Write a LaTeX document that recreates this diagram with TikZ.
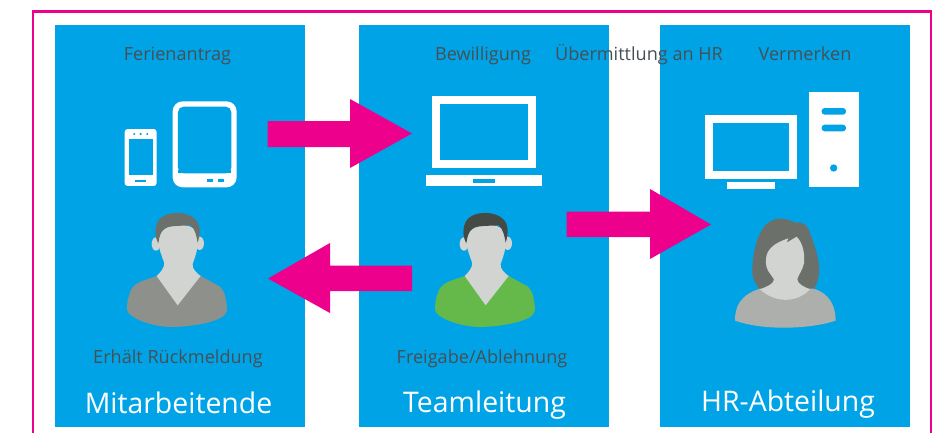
\documentclass[tikz,border=0pt]{standalone}
\usepackage{fontspec}
\setmainfont{Open Sans}
\definecolor{panelblue}{HTML}{00A4E6}
\definecolor{magent}{HTML}{EC008C}
\definecolor{labelgrey}{HTML}{474F55}
\definecolor{skin}{HTML}{D2D4D2}
\definecolor{hairA}{HTML}{6C706B}
\definecolor{hairB}{HTML}{454A44}
\definecolor{shirtA}{HTML}{8E918B}
\definecolor{shirtB}{HTML}{65B94B}
\definecolor{shirtC}{HTML}{ADAFAD}
\tikzset{
  panel/.style={fill=panelblue,draw=none,minimum width=250pt,minimum height=401.5pt,anchor=north west,inner sep=0pt},
  lab/.style={text=labelgrey,font=\fontsize{18.1}{20}\selectfont,inner sep=0pt},
  ttl/.style={text=white,font=\fontsize{28.4}{30}\selectfont,inner sep=0pt},
  blockarrow/.style={fill=magent,draw=none},
  zoomed/.style={x=0.3333pt,y=-0.3333pt}
}
\newcommand{\manfig}[4]{%
\begin{scope}[shift={(#1,#2)},zoomed]
 \fill[skin] (318,492) ellipse (13 and 20);
 \fill[skin] (449,490) ellipse (13 and 20);
 \fill[#4] (320,588) .. controls (290,600) and (255,605) .. (243,630)
   .. controls (233,655) and (230,675) .. (231,690)
   .. controls (235,712) and (300,740) .. (365,741)
   .. controls (430,740) and (525,725) .. (531,692)
   .. controls (530,660) and (525,635) .. (510,620)
   -- (452,588) -- (383,640) -- cycle;
 \fill[skin] (326,480) .. controls (326,510) and (335,525) .. (343,550)
   .. controls (343,565) and (330,578) .. (320,588) -- (383,676) -- (452,588)
   .. controls (440,580) and (425,565) .. (428,552)
   .. controls (435,530) and (445,510) .. (444,470)
   .. controls (440,420) and (330,420) .. (326,480) -- cycle;
 \fill[#3] (325,490) .. controls (310,465) and (315,425) .. (335,412)
   .. controls (360,393) and (410,395) .. (433,415)
   .. controls (452,430) and (452,460) .. (443,488)
   .. controls (440,470) and (435,445) .. (422,436)
   .. controls (395,438) and (360,436) .. (345,445)
   .. controls (332,452) and (328,470) .. (325,490) -- cycle;
\end{scope}}
\begin{document}
\begin{tikzpicture}[x=1pt,y=-1pt]
\useasboundingbox (0,0) rectangle (941,432);
\fill[white] (0,0) rectangle (941,432);
% frame
\draw[magent,line width=2.2pt] (33,433) -- (33,11.5) -- (931,11.5) -- (931,433);
% panels
\node[panel] (p1) at (54.5,25) {};
\node[panel] (p2) at (359,25) {};
\node[panel] (p3) at (660,25) {};
% phone and tablet
\begin{scope}[shift={(50,80)},zoomed]
 \fill[white,rounded corners=3pt] (224,147) rectangle (320,318);
 \fill[panelblue] (238,178) rectangle (308,286);
 \foreach \c in {253,272,292} \fill[panelblue] (\c,162) circle (3.5);
 \fill[panelblue] (256,299) rectangle (289,305);
 \fill[white,rounded corners=10pt] (368,64) rectangle (560,322);
 \fill[panelblue,rounded corners=5.5pt] (384,280) -- (384,80) -- (544,80) -- (544,280) -- cycle;
 \fill[panelblue] (384,270) rectangle (544,280);
 \fill[panelblue] (471,296) rectangle (489,306);
 \fill[panelblue] (503,296) rectangle (521,306);
\end{scope}
% laptop
\begin{scope}[shift={(400,80)},zoomed]
 \fill[white] (97,47) rectangle (409,263);
 \fill[panelblue] (121,71) rectangle (385,239);
 \fill[white] (79,286) rectangle (427,318);
 \fill[panelblue] (220,298) rectangle (286,308);
\end{scope}
% desktop
\begin{scope}[shift={(680,80)},zoomed]
 \fill[white] (76,106) rectangle (350,297);
 \fill[panelblue] (100,130) rectangle (326,273);
 \fill[white] (141,307) rectangle (285,326);
 \fill[white] (387,36) rectangle (536,320);
 \fill[panelblue,rounded corners=3pt] (425,84) rectangle (498,104);
 \fill[panelblue,rounded corners=3pt] (425,134) rectangle (498,154);
 \fill[panelblue] (461,264) circle (11);
\end{scope}
% people
\manfig{50}{80}{hairA}{shirtA}
\manfig{358}{80}{hairB}{shirtB}
\begin{scope}[shift={(680,80)},zoomed]
 \fill[hairA] (240,628) .. controls (222,610) and (215,590) .. (217,560)
   .. controls (220,510) and (235,440) .. (275,422)
   .. controls (300,408) and (330,420) .. (345,428)
   .. controls (365,422) and (385,435) .. (392,465)
   .. controls (405,500) and (420,540) .. (417,580)
   .. controls (415,600) and (410,615) .. (400,628) -- cycle;
 \fill[shirtC] (165,722) .. controls (165,680) and (180,645) .. (240,626)
   -- (400,626) .. controls (450,640) and (467,680) .. (467,722)
   .. controls (400,745) and (260,755) .. (165,722) -- cycle;
 \fill[skin] (258,540) .. controls (258,510) and (280,490) .. (325,475)
   -- (320,488) -- (350,470) .. controls (370,490) and (375,525) .. (372,550)
   .. controls (368,570) and (355,585) .. (352,598)
   .. controls (352,612) and (375,622) .. (390,628)
   .. controls (350,670) and (285,670) .. (240,628)
   .. controls (260,620) and (282,612) .. (282,598)
   .. controls (275,585) and (255,570) .. (258,540) -- cycle;
\end{scope}
% block arrows
\fill[blockarrow] (267.5,121) -- (350,121) -- (350,99) -- (412,133.5) -- (350,168) -- (350,147) -- (267.5,147) -- cycle;
\fill[blockarrow] (412,265.5) -- (330,265.5) -- (330,243) -- (268,278.5) -- (330,313) -- (330,291) -- (412,291) -- cycle;
\fill[blockarrow] (566.5,211.5) -- (650,211.5) -- (650,189) -- (711,224.5) -- (650,259) -- (650,237) -- (566.5,237) -- cycle;
% labels
\node[lab] (t1) at (177.5,56) {Ferienantrag};
\node[lab] (t2) at (483,56) {Bewilligung};
\node[lab] (t3) at (639,54.5) {Übermittlung an HR};
\node[lab] (t4) at (805,54) {Vermerken};
\node[lab] (t5) at (178,358.5) {Erhält Rückmeldung};
\node[lab] (t6) at (482,358.5) {Freigabe/Ablehnung};
\node[ttl] (n1) at (178.5,403) {Mitarbeitende};
\node[ttl] (n2) at (484.5,405.5) {Teamleitung};
\node[ttl] (n3) at (788,404.5) {HR-Abteilung};
\end{tikzpicture}
\end{document}
